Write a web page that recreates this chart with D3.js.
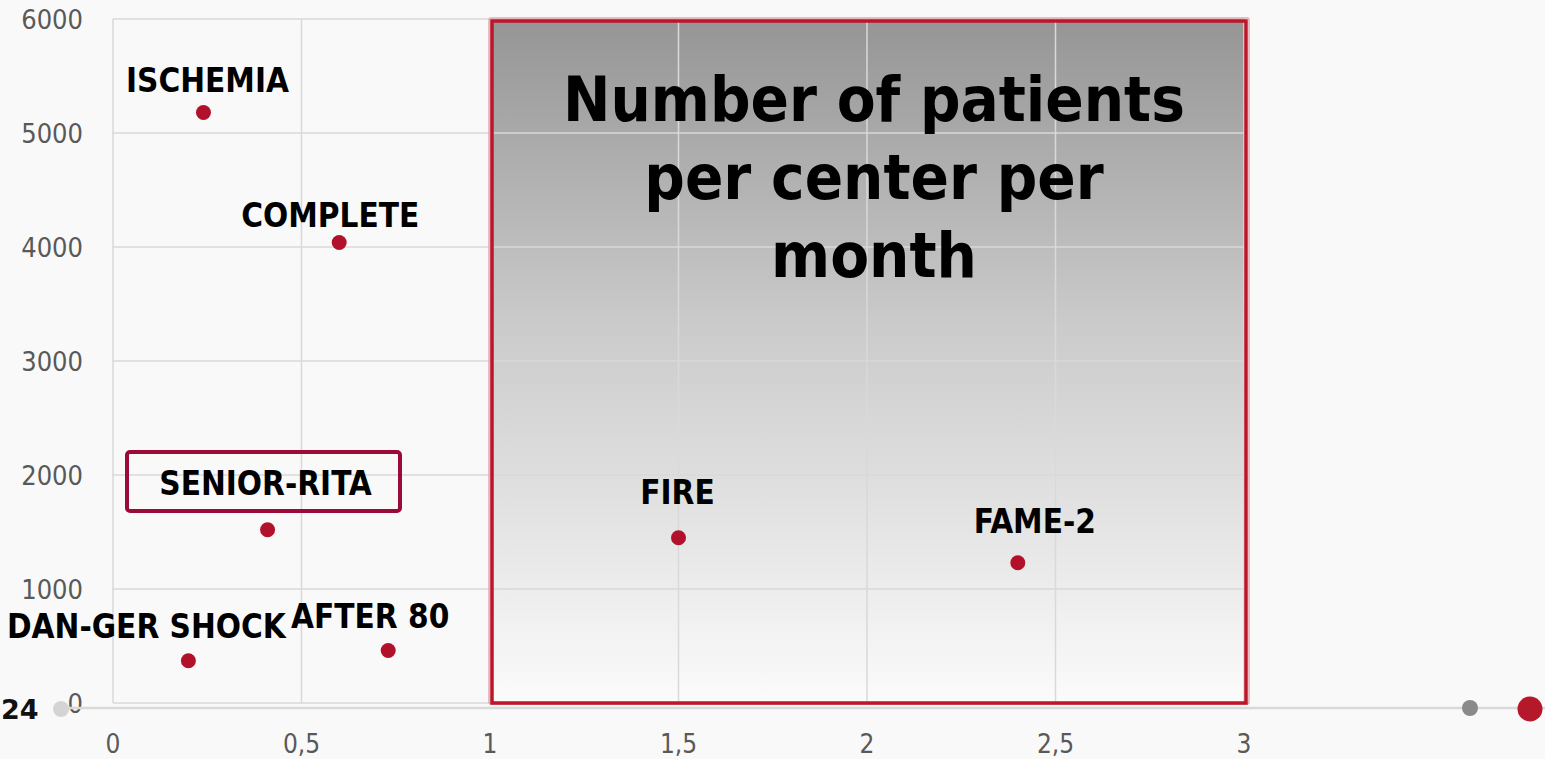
<!DOCTYPE html>
<html>
<head>
<meta charset="utf-8">
<script src="https://cdn.jsdelivr.net/npm/d3@7"></script>
<style>
  body { margin: 0; background: #f9f9f9; overflow: hidden; }
  svg { display: block; }
</style>
</head>
<body>
<div id="chart"></div>
<script>
// trial data
const trials = ["ISCHEMIA", "COMPLETE", "SENIOR-RITA", "DAN-GER SHOCK", "AFTER 80", "FIRE", "FAME-2"];
const patientsPerCenter = [0.24, 0.60, 0.41, 0.20, 0.73, 1.50, 2.40];
const patientCount = [5180, 4040, 1520, 370, 460, 1450, 1230];
// label offsets (px) relative to the point
const labelDx = [4, -9, -2, -42, -18, -1, 17];
const labelDy = [-20, -15, -35, -23, -23, -34, -30];

const xTicks = [0, 0.5, 1, 1.5, 2, 2.5, 3];
const yTicks = [0, 1000, 2000, 3000, 4000, 5000, 6000];
const titleLines = ["Number of patients", "per center per", "month"];
const highlightTrial = "SENIOR-RITA";

const W = 1545, H = 759;
const svg = d3.select("#chart").append("svg").attr("width", W).attr("height", H);

const x = d3.scaleLinear().domain([0, 3]).range([113, 1244]);
const y = d3.scaleLinear().domain([0, 6000]).range([703, 19]);

// gradient for the highlighted zone
const grad = svg.append("defs").append("linearGradient")
  .attr("id", "zoneGrad").attr("x1", 0).attr("y1", 0).attr("x2", 0).attr("y2", 1);
grad.append("stop").attr("offset", "0%").attr("stop-color", "#959595");
grad.append("stop").attr("offset", "45%").attr("stop-color", "#cbcbcb");
grad.append("stop").attr("offset", "100%").attr("stop-color", "#fbfbfb");

// zone fill (x from 1 to 3)
svg.append("rect")
  .attr("x", x(1)).attr("y", y(6000))
  .attr("width", x(3) - x(1)).attr("height", y(0) - y(6000))
  .attr("fill", "url(#zoneGrad)");

// grid
svg.append("g").selectAll("line").data(yTicks).join("line")
  .attr("x1", x(0)).attr("x2", x(3))
  .attr("y1", d => y(d)).attr("y2", d => y(d))
  .attr("stroke", "#d9d9d9").attr("stroke-width", 1.5);
svg.append("g").selectAll("line").data(xTicks).join("line")
  .attr("x1", d => x(d)).attr("x2", d => x(d))
  .attr("y1", y(6000)).attr("y2", y(0))
  .attr("stroke", "#d9d9d9").attr("stroke-width", 1.5);

// zone border
svg.append("rect")
  .attr("x", x(1) - 1).attr("y", y(6000) - 1)
  .attr("width", x(3) - x(1) + 6).attr("height", y(0) - y(6000) + 2)
  .attr("fill", "none").attr("stroke", "#e2a9b1").attr("stroke-width", 1.5).attr("rx", 2);
svg.append("rect")
  .attr("x", x(1) + 2).attr("y", y(6000) + 2)
  .attr("width", x(3) - x(1)).attr("height", y(0) - y(6000) - 2)
  .attr("fill", "none").attr("stroke", "#bd1529").attr("stroke-width", 3.5);

// axis tick labels
const tickFont = "'DejaVu Sans Condensed', 'DejaVu Sans', sans-serif";
const fmt = d => String(d).replace(".", ",");
svg.append("g").selectAll("text").data(yTicks).join("text")
  .attr("x", 83).attr("y", d => y(d)).attr("dy", "0.36em")
  .attr("text-anchor", "end")
  .attr("font-family", tickFont).attr("font-size", 27).attr("fill", "#595959")
  .text(d => d);
svg.append("g").selectAll("text").data(xTicks).join("text")
  .attr("x", d => x(d)).attr("y", 753)
  .attr("text-anchor", "middle")
  .attr("font-family", tickFont).attr("font-size", 26).attr("fill", "#595959")
  .text(fmt);

// bottom slider decoration
svg.append("line").attr("x1", 60).attr("x2", W).attr("y1", 708).attr("y2", 708)
  .attr("stroke", "#d9d9d9").attr("stroke-width", 2.5);
svg.append("circle").attr("cx", 61).attr("cy", 709).attr("r", 8).attr("fill", "#d4d4d4");
svg.append("circle").attr("cx", 1470).attr("cy", 708).attr("r", 8).attr("fill", "#8a8a8a");
svg.append("circle").attr("cx", 1530).attr("cy", 709).attr("r", 12.5).attr("fill", "#b5172b");
svg.append("text").attr("x", 1).attr("y", 719)
  .attr("font-family", "'DejaVu Sans', sans-serif").attr("font-weight", "bold")
  .attr("font-size", 27).attr("fill", "#111").text("24");

// title in the zone
const labelFont = "'DejaVu Sans Condensed', 'DejaVu Sans', sans-serif";
svg.append("text")
  .attr("x", (x(1) + x(3)) / 2 + 7).attr("y", 121)
  .attr("text-anchor", "middle")
  .attr("font-family", labelFont).attr("font-weight", "bold")
  .attr("font-size", 63).attr("fill", "#000")
  .selectAll("tspan").data(titleLines).join("tspan")
  .attr("x", (x(1) + x(3)) / 2 + 7)
  .attr("dy", (d, i) => i === 0 ? 0 : 78)
  .text(d => d);

// highlight box around SENIOR-RITA label
const hi = trials.indexOf(highlightTrial);
svg.append("rect")
  .attr("x", 127).attr("y", 452)
  .attr("width", 273).attr("height", 59).attr("rx", 3)
  .attr("fill", "none").attr("stroke", "#9c0a37").attr("stroke-width", 4);

// points
const pts = svg.append("g").selectAll("g").data(trials).join("g");
pts.append("circle")
  .attr("cx", (d, i) => x(patientsPerCenter[i]))
  .attr("cy", (d, i) => y(patientCount[i]))
  .attr("r", 7.5).attr("fill", "#b1112a");
pts.append("text")
  .attr("x", (d, i) => x(patientsPerCenter[i]) + labelDx[i])
  .attr("y", (d, i) => y(patientCount[i]) + labelDy[i])
  .attr("text-anchor", "middle")
  .attr("font-family", labelFont).attr("font-weight", "bold")
  .attr("font-size", 33).attr("fill", "#000")
  .text(d => d);
</script>
</body>
</html>
